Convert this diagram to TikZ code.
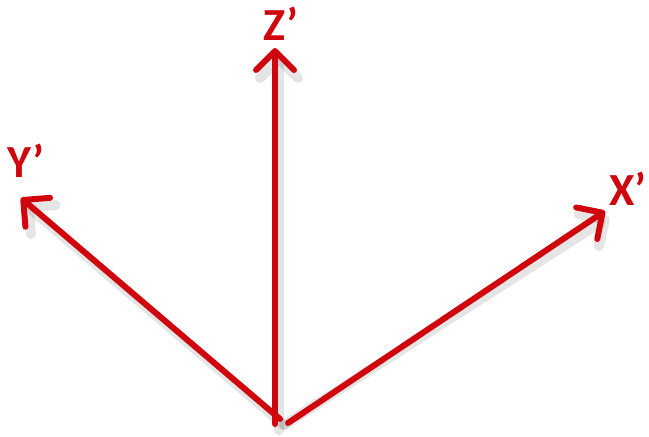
\documentclass[tikz,border=0pt]{standalone}
\usepackage{fontspec}
\setmainfont{Carlito}
\usetikzlibrary{arrows.meta}
\definecolor{axisred}{RGB}{208,6,14}

\begin{document}
\begin{tikzpicture}[x=0.5pt, y=-0.5pt, >={Straight Barb[length=9.5pt, width=19pt, line cap=round, round]},
    axis/.style={->, axisred, line width=3pt, line cap=round},
    shade/.style={->, black, opacity=0.1, line width=5pt, line cap=round},
    lbl/.style={text=axisred, font=\fontsize{23}{23}\selectfont\bfseries, inner sep=0pt}]
    \useasboundingbox (0,0) rectangle (649,436);
    \coordinate (o) at (280,419);
    \coordinate (zb) at (275,424);
    \coordinate (xt) at (605,211);
    \coordinate (yt) at (21,198);
    \coordinate (zt) at (275,48);
    % leichter Schatten
    \draw[shade] ([shift={(4,6)}]o) -- ([shift={(4,6)}]xt);
    \draw[shade] ([shift={(4,6)}]o) -- ([shift={(4,6)}]yt);
    \draw[shade] ([shift={(4,6)}]zb) -- ([shift={(4,6)}]zt);
    % Achsen
    \draw[axis] (o) -- (yt);
    \draw[axis] (zb) -- (zt);
    \draw[axis] ([shift={(8,4)}]o) -- (xt);
    \node[lbl] (zlabel) at (281,24) {Z’};
    \node[lbl] (ylabel) at (26,161) {Y’};
    \node[lbl] (xlabel) at (628,189) {X’};
\end{tikzpicture}
\end{document}
